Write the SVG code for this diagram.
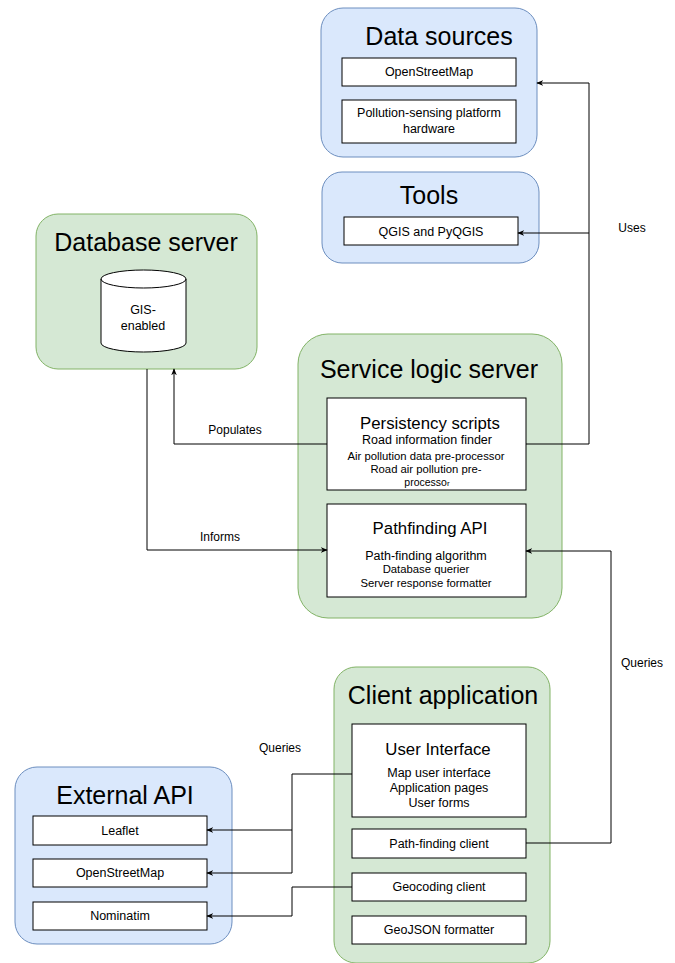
<svg xmlns="http://www.w3.org/2000/svg" width="675" height="963" viewBox="0 0 675 963">
<defs>
<style>
text{font-family:"Liberation Sans",Arial,sans-serif;fill:#000;text-anchor:middle}
.blue{fill:#dae8fc;stroke:#6c8ebf;stroke-width:1}
.green{fill:#d5e8d4;stroke:#82b366;stroke-width:1}
.box{fill:#fff;stroke:#000;stroke-width:1}
.t{font-size:25px}
.h{font-size:16.8px}
.m{font-size:12.5px}
.s{font-size:11.3px}
.lbl{font-size:12px}
.c{fill:none;stroke:#000;stroke-width:1}
</style>
<marker id="arr" viewBox="0 0 10 10" refX="9" refY="5" markerWidth="7" markerHeight="7" orient="auto" markerUnits="userSpaceOnUse">
<path d="M0,1 L10,5 L0,9 L3,5 Z" fill="#000"/>
</marker>
</defs>

<g id="data-sources">
<rect class="blue" x="321" y="8" width="216" height="149" rx="22"/>
<text class="t" x="439" y="45">Data sources</text>
<rect class="box" x="342" y="58" width="174" height="28"/>
<text class="m" x="429" y="76">OpenStreetMap</text>
<rect class="box" x="342" y="100" width="174" height="43"/>
<text class="m" x="429" y="117">Pollution-sensing platform</text>
<text class="m" x="429" y="133">hardware</text>
</g>

<g id="tools">
<rect class="blue" x="322" y="172" width="217" height="91" rx="20"/>
<text class="t" x="429" y="204">Tools</text>
<rect class="box" x="344" y="217" width="174" height="28"/>
<text class="m" x="431" y="236">QGIS and PyQGIS</text>
</g>

<g id="database-server">
<rect class="green" x="36" y="214" width="221" height="155" rx="22"/>
<text class="t" x="146" y="251">Database server</text>
<path class="box" d="M101,279 A42.5,9 0 0 1 186,279 L186,343 A42.5,9 0 0 1 101,343 Z"/>
<path class="c" d="M101,279 A42.5,9 0 0 0 186,279"/>
<text class="m" x="143" y="314">GIS-</text>
<text class="m" x="143" y="330">enabled</text>
</g>

<g id="service-logic-server">
<rect class="green" x="298" y="334" width="264" height="284" rx="30"/>
<text class="t" x="429" y="378">Service logic server</text>
<rect class="box" x="327" y="398" width="199" height="92"/>
<text class="h" x="430" y="429">Persistency scripts</text>
<text class="m" x="427" y="444">Road information finder</text>
<text class="s" x="426" y="460">Air pollution data pre-processor</text>
<text class="s" x="426" y="473">Road air pollution pre-</text>
<text class="s" x="427" y="486" style="font-size:10.5px">processo<tspan style="font-size:8px">r</tspan></text>
<rect class="box" x="327" y="504" width="199" height="93"/>
<text class="h" x="430" y="534">Pathfinding API</text>
<text class="m" x="426" y="560">Path-finding algorithm</text>
<text class="s" x="426" y="573">Database querier</text>
<text class="s" x="426" y="587">Server response formatter</text>
</g>

<g id="client-application">
<rect class="green" x="334" y="667" width="216" height="296" rx="22"/>
<text class="t" x="443" y="704">Client application</text>
<rect class="box" x="352" y="724" width="174" height="93"/>
<text class="h" x="438" y="755">User Interface</text>
<text class="m" x="439" y="777">Map user interface</text>
<text class="m" x="439" y="792">Application pages</text>
<text class="m" x="439" y="807">User forms</text>
<rect class="box" x="352" y="829" width="174" height="29"/>
<text class="m" x="439" y="848">Path-finding client</text>
<rect class="box" x="352" y="873" width="174" height="28"/>
<text class="m" x="439" y="891">Geocoding client</text>
<rect class="box" x="352" y="916" width="174" height="28"/>
<text class="m" x="439" y="934">GeoJSON formatter</text>
</g>

<g id="external-api">
<rect class="blue" x="15" y="767" width="217" height="177" rx="22"/>
<text class="t" x="125" y="804">External API</text>
<rect class="box" x="33" y="816" width="174" height="29"/>
<text class="m" x="120" y="835">Leaflet</text>
<rect class="box" x="33" y="859" width="174" height="28"/>
<text class="m" x="120" y="877">OpenStreetMap</text>
<rect class="box" x="33" y="902" width="174" height="28"/>
<text class="m" x="120" y="920">Nominatim</text>
</g>

<g id="connectors">
<path class="c" d="M526,444 H589 V83 H537" marker-end="url(#arr)"/>
<path class="c" d="M589,233 H518" marker-end="url(#arr)"/>
<path class="c" d="M327,444 H174 V369" marker-end="url(#arr)"/>
<path class="c" d="M147,369 V550 H327" marker-end="url(#arr)"/>
<path class="c" d="M526,843 H611 V551 H526" marker-end="url(#arr)"/>
<path class="c" d="M352,774 H292 V830 H207" marker-end="url(#arr)"/>
<path class="c" d="M292,830 V873 H207" marker-end="url(#arr)"/>
<path class="c" d="M352,887 H292 V916 H207" marker-end="url(#arr)"/>
<text class="lbl" x="632" y="232">Uses</text>
<text class="lbl" x="235" y="434">Populates</text>
<text class="lbl" x="220" y="541">Informs</text>
<text class="lbl" x="642" y="667">Queries</text>
<text class="lbl" x="280" y="752">Queries</text>
</g>
</svg>
